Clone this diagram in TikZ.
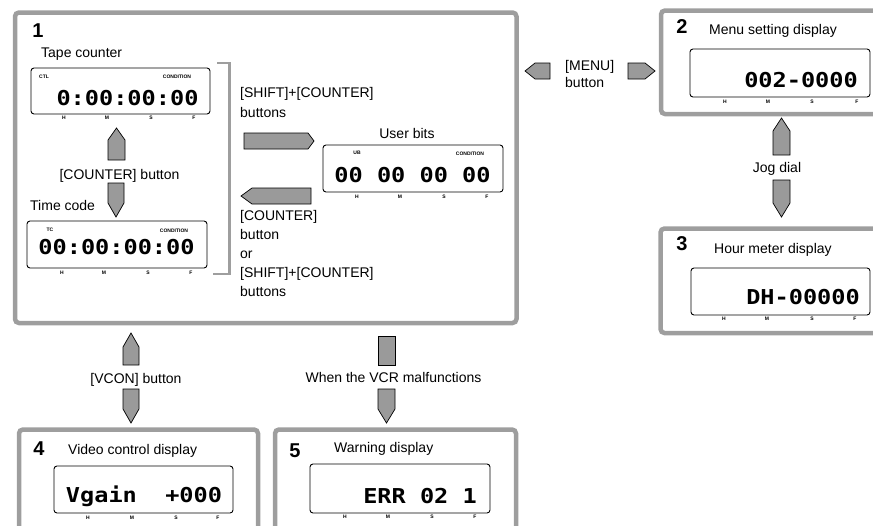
\documentclass[tikz,border=0pt]{standalone}
\usepackage{fontspec}
\setmainfont{Liberation Sans}
\newfontfamily\lcdfont{DejaVu Sans Mono}
\definecolor{panelgray}{HTML}{9E9E9E}
\definecolor{arrowgray}{HTML}{9A9A9A}
\newcommand{\lcdtxt}[1]{\scalebox{1.15}[1]{\fontsize{20.5}{20.5}\lcdfont\bfseries #1}}
\begin{document}
\begin{tikzpicture}[x=1pt,y=-1pt,
  panel/.style={draw=panelgray, line width=4.5pt, rounded corners=4pt},
  lcdbox/.style={draw=black, line width=0.9pt, rounded corners=3pt},
  blockarrow/.style={draw=black, line width=0.7pt, fill=arrowgray, line join=miter},
  bracketline/.style={draw=panelgray, line width=2.5pt},
  lbl/.style={font=\fontsize{14}{16}\selectfont, inner sep=0pt},
  num/.style={font=\fontsize{20}{20}\selectfont\bfseries, inner sep=0pt, anchor=base},
  tinylbl/.style={font=\fontsize{5}{5}\selectfont\bfseries, inner sep=0pt},
  lcd/.style={inner sep=0pt}
]
\useasboundingbox (0,0) rectangle (873,525);
\clip (0,0) rectangle (873,525);

% panels
\draw[panel] (15,12.5) rectangle (516.5,323);
\draw[panel] (661,10.5) rectangle (890,114);
\draw[panel] (660.5,228.5) rectangle (890,333);
\draw[panel] (19,429.5) rectangle (258,545);
\draw[panel] (275,429.5) rectangle (516,545);

% bracket
\draw[bracketline] (217,63) -- (229.5,63) -- (229.5,274) -- (213,274);

% LCD boxes
\draw[lcdbox] (31,68) rectangle (210,114);
\draw[lcdbox] (27,221) rectangle (207,268);
\draw[lcdbox] (323,145) rectangle (503,192);
\draw[lcdbox] (690,49) rectangle (870,97);
\draw[lcdbox] (691,268) rectangle (870,315);
\draw[lcdbox] (54,466) rectangle (233,513);
\draw[lcdbox] (310,464) rectangle (490,513);

% LCD texts
\node[lcd, anchor=base] (d1) at (127.5,105) {\lcdtxt{0:00:00:00}};
\node[lcd, anchor=base] (dtc) at (116.5,254) {\lcdtxt{00:00:00:00}};
\node[lcd, anchor=base] (dub) at (412.5,182) {\lcdtxt{00 00 00 00}};
\node[lcd, anchor=base east] (d2) at (858,87) {\lcdtxt{002-0000}};
\node[lcd, anchor=base east] (d3) at (860,304) {\lcdtxt{DH-00000}};
\node[lcd, anchor=base] (d4) at (144,502) {\lcdtxt{Vgain~~+000}};
\node[lcd, anchor=base east] (d5) at (477,503) {\lcdtxt{ERR 02 1}};

% small labels inside LCDs
\node[tinylbl] (ctl) at (44,77) {CTL};
\node[tinylbl] (cond1) at (177,77) {CONDITION};
\node[tinylbl] (tc) at (50,230) {TC};
\node[tinylbl] (cond2) at (174,231) {CONDITION};
\node[tinylbl] (ub) at (357,153) {UB};
\node[tinylbl] (cond3) at (470,154) {CONDITION};

% H M S F scales
\foreach \name/\hx/\mx/\sx/\fx/\yy in {a/64/107/151/194/118, b/62/104/148/191/273, c/357/400/444/487/197, d/725/768/812/857/102, e/724/767/812/855/319, f/88/132/176/218/518, g/345/388/432/475/517}{
  \node[tinylbl] (h\name) at (\hx,\yy) {H};
  \node[tinylbl] (m\name) at (\mx,\yy) {M};
  \node[tinylbl] (s\name) at (\sx,\yy) {S};
  \node[tinylbl] (f\name) at (\fx,\yy) {F};
}

% panel numbers and titles
\node[num] (n1) at (38,37) {1};
\node[num] (n2) at (682,33) {2};
\node[num] (n3) at (682,250) {3};
\node[num] (n4) at (39,455) {4};
\node[num] (n5) at (295,457) {5};
\node[lbl, anchor=base west] (t1) at (41,57) {Tape counter};
\node[lbl, anchor=base west] (t2) at (709,34) {Menu setting display};
\node[lbl, anchor=base west] (t3) at (714,253) {Hour meter display};
\node[lbl, anchor=base west] (t4) at (68,454) {Video control display};
\node[lbl, anchor=base west] (t5) at (334,452) {Warning display};
\node[lbl, anchor=base west] (ttc) at (30,210) {Time code};
\node[lbl, anchor=base] (tub) at (407,138) {User bits};

% transition labels
\node[lbl, anchor=base] (lc) at (119.5,179) {[COUNTER] button};
\node[lbl, anchor=base west] (ls1) at (240,97) {[SHIFT]+[COUNTER]};
\node[lbl, anchor=base west] (ls2) at (240,117) {buttons};
\node[lbl, anchor=base west] (lb1) at (240,220) {[COUNTER]};
\node[lbl, anchor=base west] (lb2) at (240,239) {button};
\node[lbl, anchor=base west] (lb3) at (240,258) {or};
\node[lbl, anchor=base west] (lb4) at (240,277) {[SHIFT]+[COUNTER]};
\node[lbl, anchor=base west] (lb5) at (240,296) {buttons};
\node[lbl, anchor=base west] (lm1) at (565,70) {[MENU]};
\node[lbl, anchor=base west] (lm2) at (565,87) {button};
\node[lbl, anchor=base] (lj) at (777,172) {Jog dial};
\node[lbl, anchor=base] (lv) at (136,383) {[VCON] button};
\node[lbl, anchor=base] (lw) at (393.5,382) {When the VCR malfunctions};

% block arrows
\draw[blockarrow] (244,133) -- (308,133) -- (314,141) -- (308,149) -- (244,149) -- cycle;
\draw[blockarrow] (311,188) -- (252,188) -- (241,196) -- (252,204) -- (311,204) -- cycle;
\draw[blockarrow] (550,63) -- (535,63) -- (525,71) -- (535,79) -- (550,79) -- cycle;
\draw[blockarrow] (628,63) -- (645,63) -- (655,71) -- (645,79) -- (628,79) -- cycle;
\draw[blockarrow] (108,160) -- (108,140) -- (116.5,128) -- (125,140) -- (125,160) -- cycle;
\draw[blockarrow] (108,183) -- (124,183) -- (124,203) -- (116,217) -- (108,203) -- cycle;
\draw[blockarrow] (773,155) -- (773,131) -- (781.5,118) -- (790,131) -- (790,155) -- cycle;
\draw[blockarrow] (773,180) -- (790,180) -- (790,203) -- (781.5,217) -- (773,203) -- cycle;
\draw[blockarrow] (123,365) -- (123,347) -- (131,333) -- (139,347) -- (139,365) -- cycle;
\draw[blockarrow] (123,389) -- (139,389) -- (139,409) -- (131,423) -- (123,409) -- cycle;
\draw[blockarrow] (378,336) rectangle (395,365);
\draw[blockarrow] (378,389) -- (395,389) -- (395,409) -- (386.5,423) -- (378,409) -- cycle;
\end{tikzpicture}
\end{document}
